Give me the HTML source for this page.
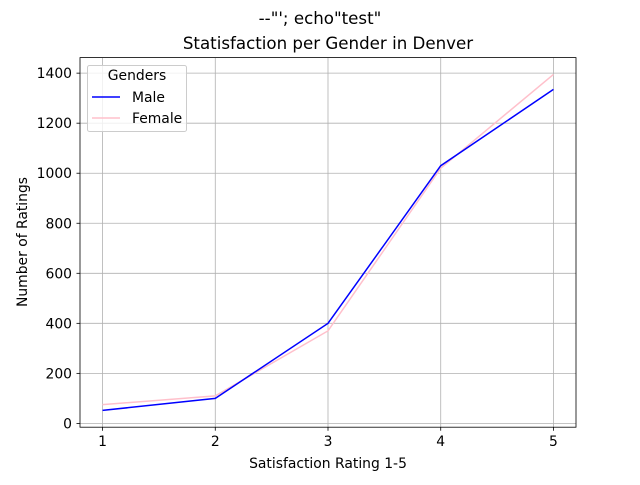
<!DOCTYPE html>
<html><head><meta charset="utf-8"><style>
body{margin:0;background:#fff;}
svg text{font-family:"DejaVu Sans","Liberation Sans",sans-serif;fill:#000;}
</style></head><body>
<svg id="chart" width="640" height="480" xmlns="http://www.w3.org/2000/svg">
<rect width="640" height="480" fill="#fff"/>
<text x="320" y="24" font-size="16.67" text-anchor="middle">--"'; echo"test"</text>
<text x="328" y="49" font-size="16.67" text-anchor="middle">Statisfaction per Gender in Denver</text>
<g id="grid"></g>
<g id="ticks"></g>
<g id="lines"></g>
<rect x="80" y="57.6" width="496" height="369.6" fill="none" stroke="#000" stroke-width="0.8"/>
<text x="328" y="468" font-size="13.9" text-anchor="middle">Satisfaction Rating 1-5</text>
<text x="27" y="242" font-size="13.9" text-anchor="middle" transform="rotate(-90 27 242)">Number of Ratings</text>
<g>
<rect x="87.5" y="65.5" width="99" height="66" rx="2" fill="#fff" fill-opacity="0.8" stroke="#ccc"/>
<text x="137" y="80" font-size="13.9" text-anchor="middle">Genders</text>
<line x1="92" y1="97" x2="120" y2="97" stroke="blue" stroke-width="1.5"/>
<text x="132" y="102" font-size="13.9">Male</text>
<line x1="92" y1="118" x2="120" y2="118" stroke="pink" stroke-width="1.5"/>
<text x="132" y="123" font-size="13.9">Female</text>
</g>
</svg>
<script>
const categories=[1,2,3,4,5];
const maleValues=[52,100,400,1030,1335];
const femaleValues=[75,110,370,1020,1395];
const yTicks=[0,200,400,600,800,1000,1200,1400];
const NS="http://www.w3.org/2000/svg";
const L=80,R=576,T=57.6,B=427.2;
const all=maleValues.concat(femaleValues);
const mn=Math.min(...all),mx=Math.max(...all),pad=(mx-mn)*0.05;
const y0=mn-pad,y1=mx+pad;
const x=v=>L+(v-0.8)/4.4*(R-L);
const y=v=>B-(v-y0)/(y1-y0)*(B-T);
function mk(t,a,p){const e=document.createElementNS(NS,t);for(const k in a)e.setAttribute(k,a[k]);p.appendChild(e);return e;}
const g=document.getElementById('grid'),tk=document.getElementById('ticks'),ln=document.getElementById('lines');
categories.forEach(c=>{
const gl=mk('line',{x1:x(c),x2:x(c),y1:T,y2:B,stroke:'#b0b0b0','stroke-width':0.8},g);


const tl=mk('line',{x1:x(c),x2:x(c),y1:B,y2:B+3.5,stroke:'#000','stroke-width':0.8},tk);


const tt=mk('text',{x:x(c),y:B+19,'font-size':13.9,'text-anchor':'middle'},tk);
tt.textContent=c;


});
yTicks.forEach(v=>{
const gl=mk('line',{x1:L,x2:R,y1:y(v),y2:y(v),stroke:'#b0b0b0','stroke-width':0.8},g);


const tl=mk('line',{x1:L-3.5,x2:L,y1:y(v),y2:y(v),stroke:'#000','stroke-width':0.8},tk);


const tt=mk('text',{x:L-8,y:y(v)+5,'font-size':13.9,'text-anchor':'end'},tk);
tt.textContent=v;


});
function series(vals,color,name){
const p=mk('polyline',{points:vals.map((v,i)=>x(categories[i])+','+y(v)).join(' '),fill:'none',stroke:color,'stroke-width':1.5},ln);


}
series(femaleValues,'pink','female-line');
series(maleValues,'blue','male-line');
</script>
</body></html>
